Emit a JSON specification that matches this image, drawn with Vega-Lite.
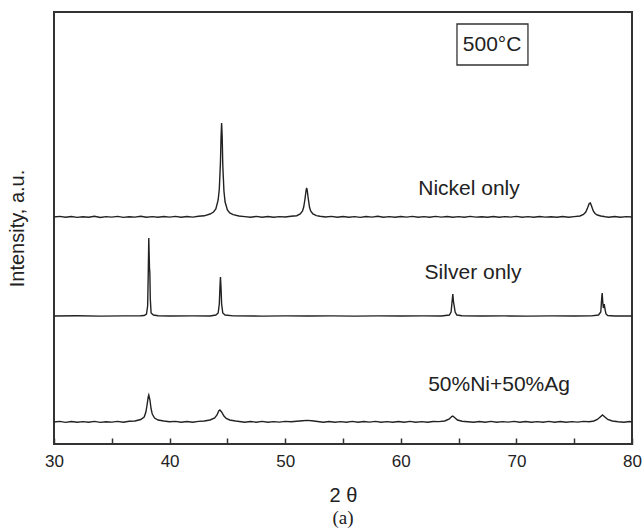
{
  "$schema": "https://vega.github.io/schema/vega-lite/v6.json",
  "autosize": {"type": "none"},
  "padding": {"left": 54, "top": 12, "right": 10, "bottom": 88},
  "width": 578,
  "height": 432,
  "background": "white",
  "config": {
    "view": {"stroke": "#333", "strokeWidth": 2},
    "font": "Liberation Sans"
  },
  "title": {"text": "(a)", "orient": "bottom", "font": "Liberation Serif", "fontSize": 19, "fontWeight": "normal", "color": "#222", "offset": 4},
  "datasets": {
    "traces": [
      {"s":"Ni","x":30,"y":227},{"s":"Ni","x":30.5,"y":227.6},{"s":"Ni","x":31,"y":226.7},{"s":"Ni","x":31.5,"y":227.5},{"s":"Ni","x":32,"y":226.6},{"s":"Ni","x":32.5,"y":227.3},{"s":"Ni","x":33,"y":226.8},{"s":"Ni","x":33.5,"y":227.7},{"s":"Ni","x":34,"y":226.5},{"s":"Ni","x":34.5,"y":227.4},{"s":"Ni","x":35,"y":226.9},{"s":"Ni","x":35.5,"y":227.6},{"s":"Ni","x":36,"y":226.6},{"s":"Ni","x":36.5,"y":227.3},{"s":"Ni","x":37,"y":226.9},{"s":"Ni","x":37.5,"y":227.8},{"s":"Ni","x":38,"y":226.7},{"s":"Ni","x":38.5,"y":227.4},{"s":"Ni","x":39,"y":226.8},{"s":"Ni","x":39.5,"y":227.5},{"s":"Ni","x":40,"y":226.9},{"s":"Ni","x":40.5,"y":227.6},{"s":"Ni","x":41,"y":226.8},{"s":"Ni","x":41.5,"y":227.5},{"s":"Ni","x":42,"y":226.9},{"s":"Ni","x":42.5,"y":227.8},{"s":"Ni","x":43,"y":228.2},{"s":"Ni","x":43.5,"y":230},{"s":"Ni","x":43.8,"y":232},{"s":"Ni","x":44.0,"y":235},{"s":"Ni","x":44.2,"y":244},{"s":"Ni","x":44.3,"y":255},{"s":"Ni","x":44.4,"y":282},{"s":"Ni","x":44.45,"y":307},{"s":"Ni","x":44.5,"y":321},{"s":"Ni","x":44.55,"y":307},{"s":"Ni","x":44.6,"y":279},{"s":"Ni","x":44.7,"y":253},{"s":"Ni","x":44.8,"y":242},{"s":"Ni","x":45.0,"y":234},{"s":"Ni","x":45.2,"y":231},{"s":"Ni","x":45.5,"y":229.3},{"s":"Ni","x":46,"y":228},{"s":"Ni","x":46.5,"y":227.4},{"s":"Ni","x":47,"y":226.8},{"s":"Ni","x":47.5,"y":227.6},{"s":"Ni","x":48,"y":226.7},{"s":"Ni","x":48.5,"y":227.5},{"s":"Ni","x":49,"y":226.8},{"s":"Ni","x":49.5,"y":227.4},{"s":"Ni","x":50,"y":227.0},{"s":"Ni","x":50.5,"y":227.7},{"s":"Ni","x":51.0,"y":228.3},{"s":"Ni","x":51.3,"y":230},{"s":"Ni","x":51.5,"y":233},{"s":"Ni","x":51.6,"y":237},{"s":"Ni","x":51.7,"y":244},{"s":"Ni","x":51.8,"y":253},{"s":"Ni","x":51.85,"y":256},{"s":"Ni","x":51.9,"y":254},{"s":"Ni","x":52.0,"y":245},{"s":"Ni","x":52.1,"y":237},{"s":"Ni","x":52.2,"y":233},{"s":"Ni","x":52.4,"y":230},{"s":"Ni","x":52.7,"y":228.4},{"s":"Ni","x":53,"y":227.8},{"s":"Ni","x":53.5,"y":227.0},{"s":"Ni","x":54,"y":227.6},{"s":"Ni","x":54.5,"y":226.7},{"s":"Ni","x":55,"y":227.5},{"s":"Ni","x":55.5,"y":226.8},{"s":"Ni","x":56,"y":227.4},{"s":"Ni","x":56.5,"y":226.6},{"s":"Ni","x":57,"y":227.5},{"s":"Ni","x":57.5,"y":226.9},{"s":"Ni","x":58,"y":227.7},{"s":"Ni","x":58.5,"y":226.8},{"s":"Ni","x":59,"y":227.4},{"s":"Ni","x":59.5,"y":226.7},{"s":"Ni","x":60,"y":227.5},{"s":"Ni","x":60.5,"y":226.9},{"s":"Ni","x":61,"y":227.6},{"s":"Ni","x":61.5,"y":226.7},{"s":"Ni","x":62,"y":227.4},{"s":"Ni","x":62.5,"y":226.8},{"s":"Ni","x":63,"y":227.6},{"s":"Ni","x":63.5,"y":226.9},{"s":"Ni","x":64,"y":227.5},{"s":"Ni","x":64.5,"y":226.7},{"s":"Ni","x":65,"y":227.4},{"s":"Ni","x":65.5,"y":226.8},{"s":"Ni","x":66,"y":227.6},{"s":"Ni","x":66.5,"y":226.9},{"s":"Ni","x":67,"y":227.3},{"s":"Ni","x":67.5,"y":226.7},{"s":"Ni","x":68,"y":227.5},{"s":"Ni","x":68.5,"y":226.8},{"s":"Ni","x":69,"y":227.4},{"s":"Ni","x":69.5,"y":226.9},{"s":"Ni","x":70,"y":227.6},{"s":"Ni","x":70.5,"y":226.8},{"s":"Ni","x":71,"y":227.4},{"s":"Ni","x":71.5,"y":226.7},{"s":"Ni","x":72,"y":227.5},{"s":"Ni","x":72.5,"y":226.9},{"s":"Ni","x":73,"y":227.3},{"s":"Ni","x":73.5,"y":226.8},{"s":"Ni","x":74,"y":227.5},{"s":"Ni","x":74.5,"y":226.7},{"s":"Ni","x":75,"y":227.4},{"s":"Ni","x":75.5,"y":228},{"s":"Ni","x":75.8,"y":229.5},{"s":"Ni","x":76.0,"y":232},{"s":"Ni","x":76.15,"y":236},{"s":"Ni","x":76.3,"y":240.5},{"s":"Ni","x":76.4,"y":241},{"s":"Ni","x":76.5,"y":238},{"s":"Ni","x":76.65,"y":233},{"s":"Ni","x":76.8,"y":230.5},{"s":"Ni","x":77.0,"y":229},{"s":"Ni","x":77.3,"y":228},{"s":"Ni","x":77.7,"y":227.2},{"s":"Ni","x":78,"y":226.8},{"s":"Ni","x":78.5,"y":227.5},{"s":"Ni","x":79,"y":226.7},{"s":"Ni","x":79.5,"y":227.4},{"s":"Ni","x":80,"y":227},
      {"s":"Ag","x":30,"y":128},{"s":"Ag","x":32,"y":128.2},{"s":"Ag","x":34,"y":127.9},{"s":"Ag","x":36,"y":128.1},{"s":"Ag","x":37.5,"y":128.2},{"s":"Ag","x":37.8,"y":128.5},{"s":"Ag","x":38.0,"y":130},{"s":"Ag","x":38.1,"y":138},{"s":"Ag","x":38.15,"y":168},{"s":"Ag","x":38.2,"y":206},{"s":"Ag","x":38.23,"y":190},{"s":"Ag","x":38.26,"y":176},{"s":"Ag","x":38.29,"y":172},{"s":"Ag","x":38.33,"y":145},{"s":"Ag","x":38.4,"y":131},{"s":"Ag","x":38.6,"y":129},{"s":"Ag","x":39,"y":128.2},{"s":"Ag","x":40,"y":128},{"s":"Ag","x":42,"y":128.1},{"s":"Ag","x":43.5,"y":128},{"s":"Ag","x":44.0,"y":129},{"s":"Ag","x":44.2,"y":131},{"s":"Ag","x":44.3,"y":140},{"s":"Ag","x":44.36,"y":158},{"s":"Ag","x":44.4,"y":167},{"s":"Ag","x":44.45,"y":156},{"s":"Ag","x":44.5,"y":140},{"s":"Ag","x":44.6,"y":131},{"s":"Ag","x":44.8,"y":129},{"s":"Ag","x":45.5,"y":128.1},{"s":"Ag","x":48,"y":127.9},{"s":"Ag","x":50,"y":128.1},{"s":"Ag","x":52,"y":128},{"s":"Ag","x":54,"y":128.1},{"s":"Ag","x":56,"y":127.9},{"s":"Ag","x":58,"y":128.1},{"s":"Ag","x":60,"y":128},{"s":"Ag","x":62,"y":128.1},{"s":"Ag","x":63.5,"y":128},{"s":"Ag","x":64.2,"y":129},{"s":"Ag","x":64.35,"y":132},{"s":"Ag","x":64.45,"y":144},{"s":"Ag","x":64.5,"y":150},{"s":"Ag","x":64.55,"y":143},{"s":"Ag","x":64.62,"y":138},{"s":"Ag","x":64.7,"y":132},{"s":"Ag","x":64.85,"y":129},{"s":"Ag","x":65.3,"y":128.2},{"s":"Ag","x":67,"y":128},{"s":"Ag","x":69,"y":128.1},{"s":"Ag","x":71,"y":127.9},{"s":"Ag","x":73,"y":128.1},{"s":"Ag","x":75,"y":128},{"s":"Ag","x":76.5,"y":128.1},{"s":"Ag","x":77.1,"y":129},{"s":"Ag","x":77.3,"y":132},{"s":"Ag","x":77.38,"y":146},{"s":"Ag","x":77.42,"y":151},{"s":"Ag","x":77.47,"y":142},{"s":"Ag","x":77.52,"y":136},{"s":"Ag","x":77.6,"y":140},{"s":"Ag","x":77.66,"y":135},{"s":"Ag","x":77.75,"y":130},{"s":"Ag","x":77.9,"y":128.5},{"s":"Ag","x":78.5,"y":128},{"s":"Ag","x":80,"y":128},
      {"s":"Mix","x":30,"y":22},{"s":"Mix","x":30.5,"y":22.6},{"s":"Mix","x":31,"y":21.6},{"s":"Mix","x":31.5,"y":22.5},{"s":"Mix","x":32,"y":21.7},{"s":"Mix","x":32.5,"y":22.4},{"s":"Mix","x":33,"y":21.8},{"s":"Mix","x":33.5,"y":22.6},{"s":"Mix","x":34,"y":21.6},{"s":"Mix","x":34.5,"y":22.3},{"s":"Mix","x":35,"y":21.9},{"s":"Mix","x":35.5,"y":22.6},{"s":"Mix","x":36,"y":21.8},{"s":"Mix","x":36.5,"y":22.7},{"s":"Mix","x":37.0,"y":23},{"s":"Mix","x":37.5,"y":24.5},{"s":"Mix","x":37.8,"y":27},{"s":"Mix","x":37.95,"y":32},{"s":"Mix","x":38.05,"y":39},{"s":"Mix","x":38.15,"y":47},{"s":"Mix","x":38.2,"y":49},{"s":"Mix","x":38.3,"y":44},{"s":"Mix","x":38.4,"y":35},{"s":"Mix","x":38.5,"y":30},{"s":"Mix","x":38.7,"y":26},{"s":"Mix","x":39.0,"y":24},{"s":"Mix","x":39.5,"y":23},{"s":"Mix","x":40,"y":22.3},{"s":"Mix","x":40.5,"y":22.6},{"s":"Mix","x":41,"y":21.7},{"s":"Mix","x":41.5,"y":22.5},{"s":"Mix","x":42,"y":21.8},{"s":"Mix","x":42.5,"y":22.6},{"s":"Mix","x":43.0,"y":23},{"s":"Mix","x":43.5,"y":24},{"s":"Mix","x":43.9,"y":26},{"s":"Mix","x":44.1,"y":29},{"s":"Mix","x":44.25,"y":33},{"s":"Mix","x":44.35,"y":34},{"s":"Mix","x":44.5,"y":32},{"s":"Mix","x":44.7,"y":28},{"s":"Mix","x":44.9,"y":25.5},{"s":"Mix","x":45.2,"y":24},{"s":"Mix","x":45.7,"y":23},{"s":"Mix","x":46.2,"y":22.3},{"s":"Mix","x":46.5,"y":21.7},{"s":"Mix","x":47,"y":22.5},{"s":"Mix","x":47.5,"y":21.8},{"s":"Mix","x":48,"y":22.6},{"s":"Mix","x":48.5,"y":21.7},{"s":"Mix","x":49,"y":22.4},{"s":"Mix","x":49.5,"y":21.9},{"s":"Mix","x":50,"y":22.6},{"s":"Mix","x":50.5,"y":22.2},{"s":"Mix","x":51,"y":22.8},{"s":"Mix","x":51.5,"y":23.2},{"s":"Mix","x":51.9,"y":23.6},{"s":"Mix","x":52.3,"y":23.2},{"s":"Mix","x":52.8,"y":22.5},{"s":"Mix","x":53.3,"y":21.8},{"s":"Mix","x":53.8,"y":22.5},{"s":"Mix","x":54.3,"y":21.7},{"s":"Mix","x":54.8,"y":22.4},{"s":"Mix","x":55.3,"y":21.8},{"s":"Mix","x":55.8,"y":22.6},{"s":"Mix","x":56.3,"y":21.7},{"s":"Mix","x":56.8,"y":22.5},{"s":"Mix","x":57.3,"y":21.9},{"s":"Mix","x":57.8,"y":22.6},{"s":"Mix","x":58.3,"y":21.7},{"s":"Mix","x":58.8,"y":22.4},{"s":"Mix","x":59.3,"y":21.8},{"s":"Mix","x":59.8,"y":22.5},{"s":"Mix","x":60.3,"y":21.7},{"s":"Mix","x":60.8,"y":22.6},{"s":"Mix","x":61.3,"y":21.8},{"s":"Mix","x":61.8,"y":22.4},{"s":"Mix","x":62.3,"y":21.7},{"s":"Mix","x":62.8,"y":22.5},{"s":"Mix","x":63.3,"y":22.4},{"s":"Mix","x":63.8,"y":23},{"s":"Mix","x":64.2,"y":25},{"s":"Mix","x":64.4,"y":27.5},{"s":"Mix","x":64.5,"y":28},{"s":"Mix","x":64.65,"y":26.5},{"s":"Mix","x":64.9,"y":24},{"s":"Mix","x":65.3,"y":22.8},{"s":"Mix","x":65.8,"y":22.2},{"s":"Mix","x":66.3,"y":21.7},{"s":"Mix","x":66.8,"y":22.5},{"s":"Mix","x":67.3,"y":21.8},{"s":"Mix","x":67.8,"y":22.6},{"s":"Mix","x":68.3,"y":21.7},{"s":"Mix","x":68.8,"y":22.4},{"s":"Mix","x":69.3,"y":21.9},{"s":"Mix","x":69.8,"y":22.6},{"s":"Mix","x":70.3,"y":21.7},{"s":"Mix","x":70.8,"y":22.5},{"s":"Mix","x":71.3,"y":21.8},{"s":"Mix","x":71.8,"y":22.4},{"s":"Mix","x":72.3,"y":21.7},{"s":"Mix","x":72.8,"y":22.6},{"s":"Mix","x":73.3,"y":21.8},{"s":"Mix","x":73.8,"y":22.5},{"s":"Mix","x":74.3,"y":21.7},{"s":"Mix","x":74.8,"y":22.4},{"s":"Mix","x":75.3,"y":21.9},{"s":"Mix","x":75.8,"y":22.6},{"s":"Mix","x":76.3,"y":22.3},{"s":"Mix","x":76.7,"y":23},{"s":"Mix","x":77.0,"y":24.5},{"s":"Mix","x":77.25,"y":27},{"s":"Mix","x":77.45,"y":29},{"s":"Mix","x":77.65,"y":27},{"s":"Mix","x":77.9,"y":24.5},{"s":"Mix","x":78.3,"y":23},{"s":"Mix","x":78.8,"y":22.3},{"s":"Mix","x":79.3,"y":21.8},{"s":"Mix","x":79.8,"y":22.5},{"s":"Mix","x":80,"y":22}
    ],
    "labels": [
      {"label": "Nickel only", "x": 65.9, "y": 255},
      {"label": "Silver only", "x": 66.25, "y": 171},
      {"label": "50%Ni+50%Ag", "x": 68.5, "y": 59},
      {"label": "500°C", "x": 67.9, "y": 399}
    ],
    "box": [
      {"x1": 64.86, "x2": 71.0, "y1": 379, "y2": 420}
    ]
  },
  "layer": [
    {
      "data": {"name": "box"},
      "mark": {"type": "rect", "fill": "white", "stroke": "#333", "strokeWidth": 1.3},
      "encoding": {
        "x": {"field": "x1", "type": "quantitative", "scale": {"domain": [30, 80], "nice": false},
          "axis": {"values": [30,35,40,45,50,55,60,65,70,75,80], "labelExpr": "datum.value % 10 === 0 ? datum.label : ''", "grid": false, "domain": false, "tickSize": -6, "tickWidth": 1.5, "tickColor": "#333", "labelFlush": false, "labelFontSize": 17, "labelColor": "#222", "labelPadding": 15, "title": "2 θ", "titleFontSize": 20, "titleFontWeight": "normal", "titleColor": "#222", "titlePadding": 16}},
        "x2": {"field": "x2"},
        "y": {"field": "y1", "type": "quantitative", "scale": {"domain": [0, 432], "nice": false, "zero": false},
          "axis": {"labels": false, "ticks": false, "domain": false, "grid": false, "title": "Intensity, a.u.", "titleFontSize": 20, "titleFontWeight": "normal", "titleColor": "#222", "titlePadding": 27}},
        "y2": {"field": "y2"}
      }
    },
    {
      "data": {"name": "traces"},
      "mark": {"type": "line", "color": "#222", "strokeWidth": 1.4},
      "encoding": {
        "x": {"field": "x", "type": "quantitative"},
        "y": {"field": "y", "type": "quantitative"},
        "detail": {"field": "s"}
      }
    },
    {
      "data": {"name": "labels"},
      "mark": {"type": "text", "fontSize": 21, "color": "#222", "align": "center", "baseline": "middle"},
      "encoding": {
        "x": {"field": "x", "type": "quantitative"},
        "y": {"field": "y", "type": "quantitative"},
        "text": {"field": "label"}
      }
    }
  ]
}
